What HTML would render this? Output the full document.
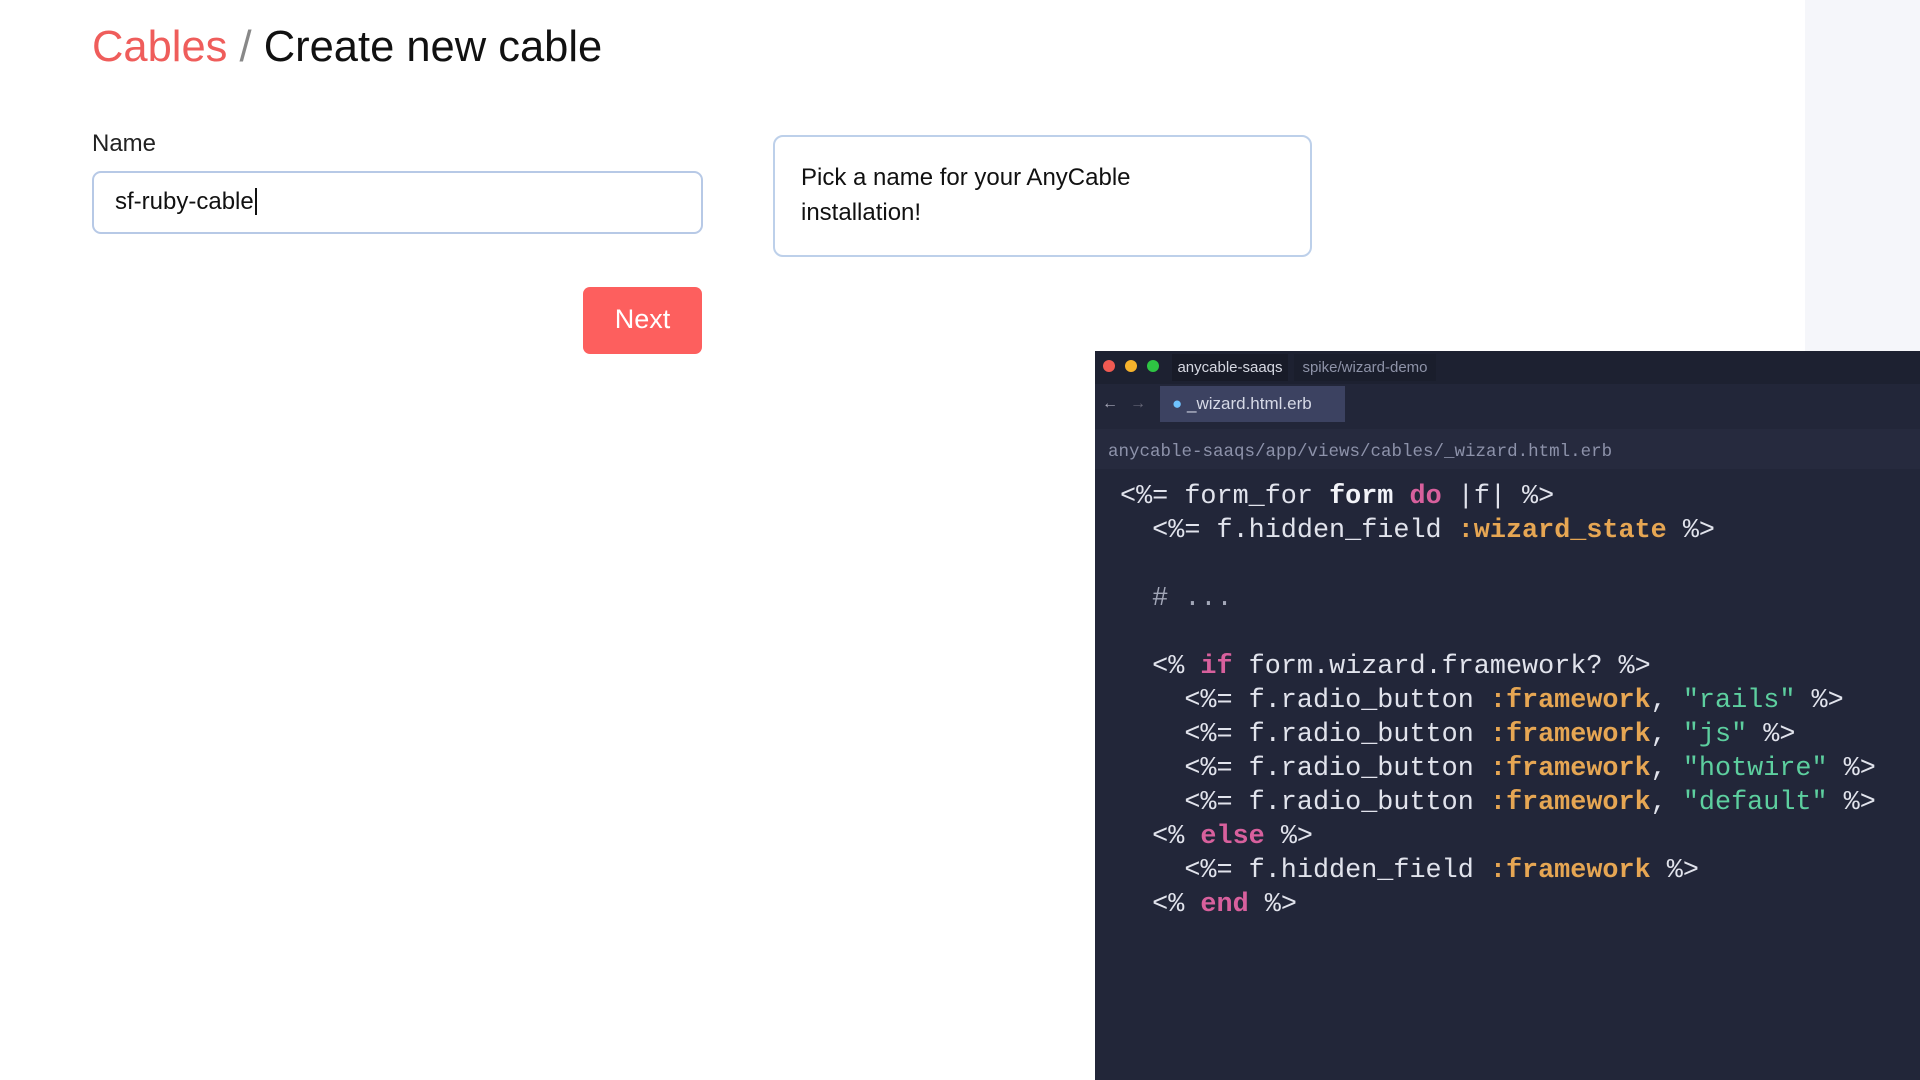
<!DOCTYPE html>
<html><head><meta charset="utf-8"><style>
*{margin:0;padding:0;box-sizing:border-box}
body{width:1920px;height:1080px;overflow:hidden;background:#fff;position:relative;font-family:"Liberation Sans",sans-serif}
.abs{position:absolute}
.code{font-family:"Liberation Mono",monospace;font-size:26.8px;color:#e1e3ec;white-space:pre;line-height:34px}
.k{color:#d8609d;font-weight:bold}.s{color:#e6a653;font-weight:bold}.g{color:#5dcf9f}.b{font-weight:bold;color:#f2f3f8}.c{color:#a3a7b8}
</style></head><body>
<div class="abs" style="left:1805px;top:0;width:115px;height:351px;background:#f5f6fa"></div>
<div class="abs" style="left:92px;top:23px;font-size:43.5px;color:#111;white-space:nowrap"><span style="color:#ef5d5b">Cables</span> <span style="color:#888">/</span> Create new cable</div>
<div class="abs" style="left:92px;top:130px;font-size:24px;color:#222">Name</div>
<div class="abs" style="left:92px;top:171px;width:611px;height:63px;border:2px solid #b7c9e6;border-radius:9px;font-size:24px;color:#111;padding:15px 0 0 21px">sf-ruby-cable<span style="border-left:2px solid #111;margin-left:1px"></span></div>
<div class="abs" style="left:773px;top:135px;width:539px;height:122px;border:2px solid #bdd0ea;border-radius:10px;font-size:24px;color:#111;line-height:35px;padding:23px 0 0 26px">Pick a name for your AnyCable<br>installation!</div>
<div class="abs" style="left:583px;top:287px;width:119px;height:67px;background:#fd5f5e;border-radius:7px;color:#fff;font-size:27px;text-align:center;line-height:65px">Next</div>

<div class="abs" style="left:1095px;top:351px;width:825px;height:729px;background:#222639"></div>
<div class="abs" style="left:1095px;top:351px;width:825px;height:33px;background:#1d2131"></div>
<div class="abs" style="left:1103px;top:360px;width:12px;height:12px;border-radius:6px;background:#f05a52"></div>
<div class="abs" style="left:1125px;top:360px;width:12px;height:12px;border-radius:6px;background:#f6b22c"></div>
<div class="abs" style="left:1147px;top:360px;width:12px;height:12px;border-radius:6px;background:#2ec543"></div>
<div class="abs" style="left:1172px;top:354px;width:116px;height:27px;background:#181b28;color:#d6d8e2;font-size:15px;line-height:27px;text-align:center">anycable-saaqs</div>
<div class="abs" style="left:1294px;top:354px;width:142px;height:27px;background:#1a1e2c;color:#8e93a8;font-size:15px;line-height:27px;text-align:center">spike/wizard-demo</div>
<div class="abs" style="left:1098px;top:390px;width:24px;height:28px;color:#aab;font-size:16px;line-height:28px;text-align:center">←</div>
<div class="abs" style="left:1126px;top:390px;width:24px;height:28px;color:#667;font-size:16px;line-height:28px;text-align:center">→</div>
<div class="abs" style="left:1160px;top:386px;width:185px;height:36px;background:#3c4261;color:#d6d9e6;font-size:17px;line-height:36px;padding-left:12px"><span style="color:#6fc3ff">●</span>&nbsp;_wizard.html.erb</div>
<div class="abs" style="left:1095px;top:429px;width:825px;height:40px;background:#262a3e"></div>
<div class="abs" style="left:1108px;top:442px;font-family:'Liberation Mono',monospace;font-size:17.5px;color:#8d92aa">anycable-saaqs/app/views/cables/_wizard.html.erb</div>
<div class="abs code" style="left:1120px;top:480px">&lt;%= form_for <span class="b">form</span> <span class="k">do</span> |f| %&gt;
  &lt;%= f.hidden_field <span class="s">:wizard_state</span> %&gt;

  <span class="c"># ...</span>

  &lt;% <span class="k">if</span> form.wizard.framework? %&gt;
    &lt;%= f.radio_button <span class="s">:framework</span>, <span class="g">"rails"</span> %&gt;
    &lt;%= f.radio_button <span class="s">:framework</span>, <span class="g">"js"</span> %&gt;
    &lt;%= f.radio_button <span class="s">:framework</span>, <span class="g">"hotwire"</span> %&gt;
    &lt;%= f.radio_button <span class="s">:framework</span>, <span class="g">"default"</span> %&gt;
  &lt;% <span class="k">else</span> %&gt;
    &lt;%= f.hidden_field <span class="s">:framework</span> %&gt;
  &lt;% <span class="k">end</span> %&gt;</div>
</body></html>
